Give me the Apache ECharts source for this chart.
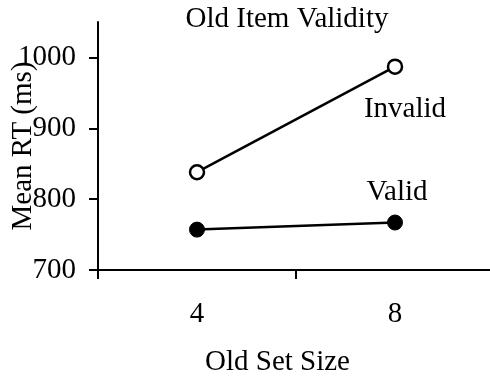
<!DOCTYPE html>
<html>
<head>
<meta charset="utf-8">
<script src="https://cdn.jsdelivr.net/npm/echarts@6/dist/echarts.min.js"></script>
<style>
  html, body { margin: 0; padding: 0; background: #fff; }
  #chart { width: 490px; height: 377px; }
</style>
</head>
<body>
<div id="chart"></div>
<script>
// Mean response time by old set size, split by old item validity
const setSizes = ['4', '8'];
const invalidRT = [838, 987];
const validRT = [757, 767];
const yTicks = [700, 800, 900, 1000];

const FONT = '"Liberation Serif", "Times New Roman", serif';
const FS = 29;

const chart = echarts.init(document.getElementById('chart'), null, { renderer: 'canvas' });

chart.setOption({
  backgroundColor: '#fff',
  animation: false,
  textStyle: { fontFamily: FONT, color: '#000' },
  grid: { left: 98, top: 22, right: -4, bottom: 107, containLabel: false, outerBoundsMode: 'none' },
  graphic: [{
    type: 'text',
    x: 287, y: 19,
    style: {
      text: 'Old Item Validity',
      font: FS + 'px ' + FONT,
      fill: '#000',
      align: 'center',
      verticalAlign: 'middle'
    }
  }],
  xAxis: {
    type: 'category',
    data: setSizes,
    boundaryGap: true,
    name: 'Old Set Size',
    nameLocation: 'middle',
    nameGap: 78,
    nameMoveOverlap: false,
    nameTextStyle: { fontFamily: FONT, fontSize: FS, color: '#000', padding: [0, 37, 0, 0] },
    axisLine: { lineStyle: { color: '#000', width: 2 } },
    axisTick: { show: true, length: 9, inside: false, lineStyle: { color: '#000', width: 2 } },
    axisLabel: { fontFamily: FONT, fontSize: FS, color: '#000', margin: 30 },
    splitLine: { show: false }
  },
  yAxis: {
    type: 'value',
    min: 700,
    max: 1050,
    interval: 100,
    name: 'Mean RT (ms)',
    nameLocation: 'middle',
    nameRotate: 90,
    nameGap: 60,
    nameMoveOverlap: false,
    nameTextStyle: { fontFamily: FONT, fontSize: FS, color: '#000' },
    axisLine: { show: true, lineStyle: { color: '#000', width: 2 } },
    axisTick: { show: true, length: 9, inside: false, customValues: yTicks, lineStyle: { color: '#000', width: 2 } },
    axisLabel: {
      fontFamily: FONT, fontSize: FS, color: '#000', margin: 22,
      customValues: yTicks,
      formatter: v => String(v)
    },
    splitLine: { show: false }
  },
  series: [
    {
      name: 'Invalid',
      type: 'line',
      data: invalidRT,
      symbol: 'circle',
      symbolSize: 14,
      showAllSymbol: true,
      lineStyle: { color: '#000', width: 2.5 },
      itemStyle: { color: '#fff', borderColor: '#000', borderWidth: 2.5 },
      label: {
        show: true,
        position: 'inside',
        offset: [10, 43],
        fontFamily: FONT, fontSize: FS, color: '#000',
        formatter: p => p.dataIndex === 1 ? 'Invalid' : ''
      },
      z: 3
    },
    {
      name: 'Valid',
      type: 'line',
      data: validRT,
      symbol: 'circle',
      symbolSize: 15,
      showAllSymbol: true,
      lineStyle: { color: '#000', width: 2.5 },
      itemStyle: { color: '#000', borderColor: '#000', borderWidth: 1 },
      label: {
        show: true,
        position: 'inside',
        offset: [2, -30],
        fontFamily: FONT, fontSize: FS, color: '#000',
        formatter: p => p.dataIndex === 1 ? 'Valid' : ''
      },
      z: 3
    }
  ]
});
</script>
</body>
</html>
